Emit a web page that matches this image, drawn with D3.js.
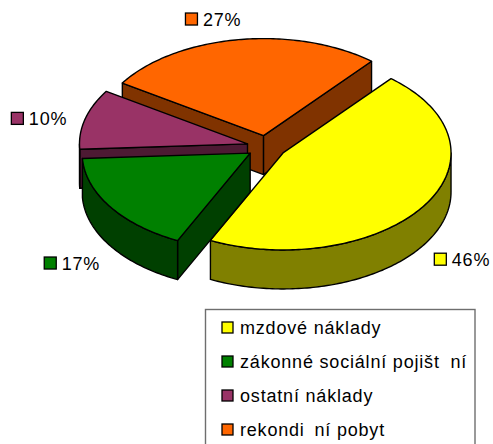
<!DOCTYPE html>
<html>
<head>
<meta charset="utf-8">
<script src="https://cdn.jsdelivr.net/npm/d3@7"></script>
<style>
  html, body { margin: 0; padding: 0; background: #fff; }
  svg { display: block; }
  text { font-family: "Liberation Sans", Arial, sans-serif; }
</style>
</head>
<body>
<svg id="chart" width="493" height="444"></svg>
<script>
// ---- data ----
const categories = ["mzdové náklady", "zákonné sociální pojištění", "ostatní náklady", "rekondiční pobyt"];
const values = [46, 17, 10, 27];
const valueLabels = ["46%", "17%", "10%", "27%"];
const topColors = ["#FFFF00", "#008000", "#993366", "#FF6600"];
const sideColors = ["#808000", "#004000", "#4D1A33", "#803300"];

// ---- layout ----
const W = 493, H = 444;
const cx = 266.5, cy = 146.8;     // pie centre (top face)
const rx = 168, ry = 97;          // projected radii
const depth = 39;                 // thickness
const explode = 0.117;            // explosion fraction of radius
const firstAngle = 40 * Math.PI / 180;
// label placement (polar, relative to centre, in radius units)
const labelPolar = [[135, 1.646], [223.9, 1.67], [282, 1.384], [346.4, 1.35]];
const hiddenGlyphs = new Set(["ě", "č"]);   // glyphs the original rendering dropped

const svg = d3.select("#chart");

const pie = d3.pie().sort(null).value(d => d)
  .startAngle(firstAngle).endAngle(firstAngle + 2 * Math.PI);
const arcs = pie(values).map((a, i) => {
  const mid = (a.startAngle + a.endAngle) / 2;
  const ox = explode * rx * Math.sin(mid);
  const oy = -explode * ry * Math.cos(mid);
  return Object.assign({}, a, { i, mid, ox, oy });
});

function pt(a, ang, r, z) {
  return [cx + a.ox + rx * r * Math.sin(ang), cy + a.oy - ry * r * Math.cos(ang) + (z || 0)];
}
function arcPts(a, a0, a1, z) {
  const n = Math.max(2, Math.ceil(Math.abs(a1 - a0) / (Math.PI / 180)));
  const out = [];
  for (let k = 0; k <= n; k++) out.push(pt(a, a0 + (a1 - a0) * k / n, 1, z));
  return out;
}
const line = d3.line().curve(d3.curveLinearClosed);

const stroke = "#000", sw = 1.4;
const order = arcs.slice().sort((p, q) => (-Math.cos(p.mid)) - (-Math.cos(q.mid)));

const g = svg.append("g");
order.forEach(a => {
  const sg = g.append("g");
  const apex = pt(a, 0, 0, 0);
  const apexB = pt(a, 0, 0, depth);
  // radial faces
  [[a.startAngle, a.startAngle - Math.PI / 2], [a.endAngle, a.endAngle + Math.PI / 2]].forEach(([ang, nrm]) => {
    if (-Math.cos(nrm) > 0) {
      const e = pt(a, ang, 1, 0), eB = pt(a, ang, 1, depth);
      sg.append("path").attr("d", line([apex, e, eB, apexB]))
        .attr("fill", sideColors[a.i]).attr("stroke", stroke).attr("stroke-width", sw)
        .attr("stroke-linejoin", "round");
    }
  });
  // outer wall (front-facing part: angles in (90°, 270°) mod 360)
  for (let k = -1; k <= 1; k++) {
    const lo = Math.PI / 2 + 2 * Math.PI * k, hi = 3 * Math.PI / 2 + 2 * Math.PI * k;
    const s = Math.max(lo, a.startAngle), e = Math.min(hi, a.endAngle);
    if (e > s) {
      const top = arcPts(a, s, e, 0);
      const bot = arcPts(a, e, s, depth);
      sg.append("path").attr("d", line(top.concat(bot)))
        .attr("fill", sideColors[a.i]).attr("stroke", stroke).attr("stroke-width", sw)
        .attr("stroke-linejoin", "round");
    }
  }
  // top face
  const topPts = [apex].concat(arcPts(a, a.startAngle, a.endAngle, 0));
  sg.append("path").attr("d", line(topPts))
    .attr("fill", topColors[a.i]).attr("stroke", stroke).attr("stroke-width", sw)
    .attr("stroke-linejoin", "round");
});

// ---- value labels ----
const fs = 18, ls = 0.8;
arcs.forEach(a => {
  const [deg, r] = labelPolar[a.i];
  const ang = deg * Math.PI / 180;
  const lx = cx + rx * r * Math.sin(ang), ly = cy - ry * r * Math.cos(ang);
  const lg = svg.append("g");
  const sq = 13, gap = 5;
  const t = lg.append("text").attr("font-size", fs).attr("letter-spacing", ls)
    .attr("fill", "#000").text(valueLabels[a.i]);
  const tw = t.node().getComputedTextLength();
  const total = sq + gap + tw;
  const x0 = lx - total / 2;
  lg.insert("rect", "text").attr("x", x0 + 0.5).attr("y", ly - sq / 2)
    .attr("width", sq - 1).attr("height", sq - 1)
    .attr("fill", topColors[a.i]).attr("stroke", "#000").attr("stroke-width", 1.3);
  t.attr("x", x0 + sq + gap).attr("y", ly + sq / 2);
});

// ---- legend ----
const leg = svg.append("g");
leg.append("rect").attr("x", 205.5).attr("y", 309.5).attr("width", 269.5).attr("height", 160)
  .attr("fill", "#fff").attr("stroke", "#6e6e6e").attr("stroke-width", 1.4);
const rowY = d3.scalePoint().domain(d3.range(categories.length)).range([327.5, 429.5]);
categories.forEach((c, i) => {
  const y = rowY(i);
  leg.append("rect").attr("x", 222).attr("y", y - 5.5).attr("width", 11).attr("height", 11)
    .attr("fill", topColors[i]).attr("stroke", "#000").attr("stroke-width", 1.3);
  const t = leg.append("text").attr("x", 240).attr("y", y + 6)
    .attr("font-size", fs).attr("letter-spacing", ls).attr("fill", "#000");
  Array.from(c).forEach(ch => {
    const ts = t.append("tspan").text(ch);
    if (hiddenGlyphs.has(ch)) ts.attr("fill-opacity", 0);
  });
});
</script>
</body>
</html>
